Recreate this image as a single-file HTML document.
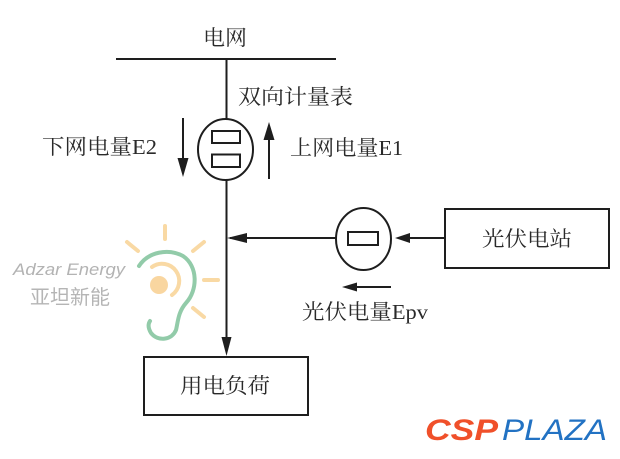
<!DOCTYPE html>
<html><head><meta charset="utf-8">
<style>
html,body{margin:0;padding:0;background:#fff;}
svg{display:block;}
.cjk{font-family:"Liberation Serif","Noto Serif CJK SC",serif;fill:#2a2a2a;}
</style></head>
<body>
<svg width="620" height="459" viewBox="0 0 620 459" xmlns="http://www.w3.org/2000/svg">
<rect width="620" height="459" fill="#fff"/>

<!-- watermark ear logo -->
<g fill="none" stroke-linecap="round">
  <g stroke="#f9d9a4" stroke-width="4">
    <line x1="165" y1="226" x2="165" y2="239"/>
    <line x1="127" y1="242" x2="138" y2="251"/>
    <line x1="193" y1="251" x2="204" y2="242"/>
    <line x1="204" y1="280" x2="218" y2="280"/>
    <line x1="193" y1="308" x2="204" y2="317"/>
    <path d="M152 267 A16 16 0 1 1 172 295"/>
  </g>
  <circle cx="159" cy="285" r="9" fill="#f9d6a0" stroke="none"/>
  <path d="M139 266 C148 252 168 248 183 256 C198 266 198 290 186 303 C178 312 178 322 176 330 C172 340 158 342 151 333 C148 328 148 324 150 321" stroke="#92cba9" stroke-width="4"/>
</g>
<text x="13" y="275" textLength="112" lengthAdjust="spacingAndGlyphs" font-family="Liberation Sans, sans-serif" font-style="italic" font-size="17" fill="#b3b3b3">Adzar Energy</text>
<text x="30" y="304" textLength="80" lengthAdjust="spacingAndGlyphs" font-family="Liberation Sans, 'Noto Sans CJK SC', sans-serif" font-size="20" fill="#b5b5b5">亚坦新能</text>

<!-- lines -->
<g stroke="#1e1e1e" stroke-width="2" fill="none">
  <line x1="116" y1="59" x2="336" y2="59"/>
  <line x1="226.5" y1="59" x2="226.5" y2="119"/>
  <line x1="226.5" y1="180" x2="226.5" y2="340"/>
  <ellipse cx="225.5" cy="149.5" rx="27.5" ry="30.5"/>
  <rect x="212" y="131" width="28" height="12"/>
  <rect x="212" y="154.5" width="28" height="12.5"/>
  <line x1="230" y1="238" x2="336" y2="238"/>
  <ellipse cx="363.5" cy="239" rx="27.5" ry="31"/>
  <rect x="348" y="232" width="30" height="13"/>
  <line x1="405" y1="238" x2="445" y2="238"/>
  <rect x="445" y="209" width="164" height="59"/>
  <rect x="144" y="357" width="164" height="58"/>
  <line x1="355" y1="287" x2="391" y2="287"/>
  <line x1="183" y1="118" x2="183" y2="162"/>
  <line x1="269" y1="135" x2="269" y2="179"/>
</g>
<g fill="#1e1e1e">
  <polygon points="226.5,356 221.5,337 231.5,337"/>
  <polygon points="227,238 247,233 247,243"/>
  <polygon points="395,238 410,233 410,243"/>
  <polygon points="342,287 357,282.5 357,291.5"/>
  <polygon points="183,177 177.5,158 188.5,158"/>
  <polygon points="269,122 263.5,140 274.5,140"/>
</g>

<!-- labels -->
<g class="cjk" font-size="21" dominant-baseline="central">
  <text x="203" y="38" textLength="44" lengthAdjust="spacingAndGlyphs">电网</text>
  <text x="238" y="97" textLength="115" lengthAdjust="spacingAndGlyphs">双向计量表</text>
  <text x="42" y="147" textLength="115" lengthAdjust="spacingAndGlyphs">下网电量E2</text>
  <text x="290" y="148" textLength="113" lengthAdjust="spacingAndGlyphs">上网电量E1</text>
  <text x="482" y="239" textLength="90" lengthAdjust="spacingAndGlyphs">光伏电站</text>
  <text x="302" y="312" textLength="126" lengthAdjust="spacingAndGlyphs">光伏电量Epv</text>
  <text x="180" y="386" textLength="90" lengthAdjust="spacingAndGlyphs">用电负荷</text>
</g>

<!-- CSP PLAZA logo -->
<text x="425" y="440" textLength="73" lengthAdjust="spacingAndGlyphs" font-family="Liberation Sans, sans-serif" font-weight="bold" font-style="italic" font-size="30" fill="#f0502a">CSP</text>
<text x="502" y="440" textLength="105" lengthAdjust="spacingAndGlyphs" font-family="Liberation Sans, sans-serif" font-style="italic" font-size="30" fill="#2272c3">PLAZA</text>
</svg>
</body></html>
